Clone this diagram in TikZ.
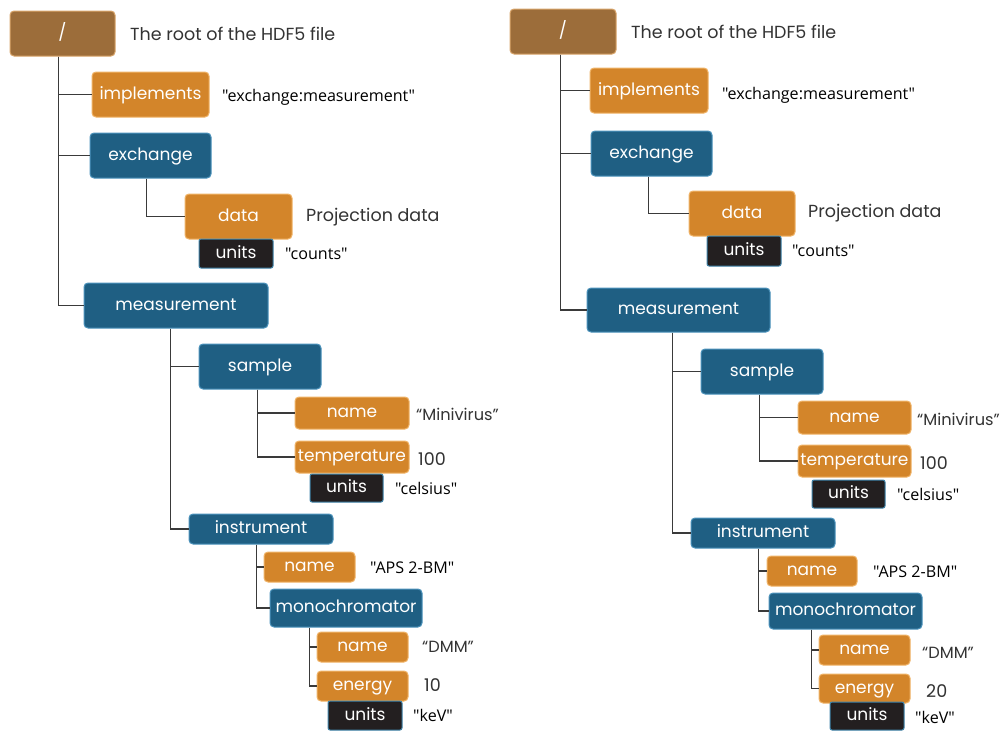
\documentclass[tikz,border=0pt]{standalone}
\usepackage{fontspec}
\setmainfont{Poppins}
\newfontfamily\valfont{Open Sans}
\definecolor{rootfill}{HTML}{9C6D3A}
\definecolor{rootedge}{HTML}{D9A56A}
\definecolor{attrfill}{HTML}{D3852A}
\definecolor{attredge}{HTML}{F0B468}
\definecolor{grpfill}{HTML}{1F5F83}
\definecolor{grpedge}{HTML}{4C93BC}
\definecolor{unitfill}{HTML}{231F20}
\definecolor{unitedge}{HTML}{3F84AA}
\definecolor{linkcol}{HTML}{3A3A3A}
\definecolor{desccol}{HTML}{333333}
\tikzset{
  x=1pt, y=-1pt,
  box/.style={rectangle, rounded corners=4pt, line width=1pt, inner sep=0pt,
    text height=11pt, text depth=1.7pt,
    text=white, font=\fontsize{17}{17}\selectfont},
  rootbox/.style={box, fill=rootfill, draw=rootedge},
  attrbox/.style={box, fill=attrfill, draw=attredge},
  grpbox/.style={box, fill=grpfill, draw=grpedge},
  unitbox/.style={box, rounded corners=2pt, fill=unitfill, draw=unitedge},
  sz/.style 2 args={minimum width=#1pt, minimum height=#2pt},
  link/.style={draw=linkcol, line width=1.5pt},
  desc/.style={anchor=west, inner sep=0pt, text=desccol, font=\fontsize{17.5}{17.5}\selectfont},
  qdesc/.style={desc, font=\fontsize{16.2}{16.2}\selectfont},
  val/.style={anchor=west, inner sep=0pt, text=black, font=\valfont\fontsize{16.1}{16.1}\selectfont},
}
\begin{document}
\begin{tikzpicture}
\useasboundingbox[fill=white] (0,0) rectangle (1002,731);

% ---------------- left tree ----------------
\node[rootbox, sz={105}{45}] (Lroot) at (62.5,33.5) {/};
\node[attrbox, sz={117}{45}] (Limpl) at (150.5,94.5) {implements};
\node[grpbox,  sz={121}{45}] (Lexch) at (150.5,155.5) {exchange};
\node[attrbox, sz={107}{45}] (Ldata) at (238.5,216.5) {data};
\node[unitbox, sz={74}{29}]  (Lu1)   at (236,253.5) {units};
\node[grpbox,  sz={184}{45}] (Lmeas) at (176,305.5) {measurement};
\node[grpbox,  sz={122}{45}] (Lsamp) at (260,366.5) {sample};
\node[attrbox, sz={114}{32}] (Lsname) at (352,413) {name};
\node[attrbox, sz={114}{32}] (Ltemp) at (352,457) {temperature};
\node[unitbox, sz={73}{28}]  (Lu2)   at (346.5,488) {units};
\node[grpbox,  sz={144}{30}] (Linst) at (261,529) {instrument};
\node[attrbox, sz={91}{30}]  (Liname) at (309.5,567) {name};
\node[grpbox,  sz={152}{38}] (Lmono) at (346,608) {monochromator};
\node[attrbox, sz={91}{30}]  (Lmname) at (362.5,647) {name};
\node[attrbox, sz={91}{30}]  (Lener) at (362.5,686) {energy};
\node[unitbox, sz={74}{29}]  (Lu3)   at (365,715.5) {units};

\node[desc]  (Ld1) at (130,34) {The root of the HDF5 file};
\node[val]   (Lv1) at (222,97) {"exchange:measurement"};
\node[desc]  (Ld2) at (306,217) {Projection data};
\node[val]   (Lv2) at (285,254) {"counts"};
\node[qdesc] (Ld3) at (416,414) {“Minivirus”};
\node[desc]  (Ld4) at (418,459) {100};
\node[val]   (Lv3) at (395,488) {"celsius"};
\node[val]   (Lv4) at (370,568) {"APS 2-BM"};
\node[qdesc] (Ld5) at (422,647) {“DMM”};
\node[desc]  (Ld6) at (424,685) {10};
\node[val]   (Lv5) at (413,715) {"keV"};

\draw[link] ([xshift=49pt]Lroot.south west) |- (Lmeas.west);
\draw[link] ([xshift=49pt]Lroot.south west) |- (Limpl.west);
\draw[link] ([xshift=49pt]Lroot.south west) |- (Lexch.west);
\draw[link] ([xshift=57pt]Lexch.south west) |- (Ldata.west);
\draw[link] ([xshift=87pt]Lmeas.south west) |- (Linst.west);
\draw[link] ([xshift=87pt]Lmeas.south west) |- (Lsamp.west);
\draw[link] ([xshift=59pt]Lsamp.south west) |- (Lsname.west);
\draw[link] ([xshift=59pt]Lsamp.south west) |- (Ltemp.west);
\draw[link] ([xshift=68pt]Linst.south west) |- (Liname.west);
\draw[link] ([xshift=68pt]Linst.south west) |- (Lmono.west);
\draw[link] ([xshift=40pt]Lmono.south west) |- (Lmname.west);
\draw[link] ([xshift=40pt]Lmono.south west) |- (Lener.west);

% ---------------- right tree ----------------
\node[rootbox, sz={106}{45}] (Rroot) at (563,31.5) {/};
\node[attrbox, sz={118}{45}] (Rimpl) at (649,90.5) {implements};
\node[grpbox,  sz={121}{45}] (Rexch) at (651.5,153.5) {exchange};
\node[attrbox, sz={106}{45}] (Rdata) at (742,213.5) {data};
\node[unitbox, sz={74}{30}]  (Ru1)   at (744,251) {units};
\node[grpbox,  sz={183}{44}] (Rmeas) at (678.5,310) {measurement};
\node[grpbox,  sz={122}{45}] (Rsamp) at (762,371.5) {sample};
\node[attrbox, sz={113}{33}] (Rsname) at (854.5,417.5) {name};
\node[attrbox, sz={113}{32}] (Rtemp) at (854.5,461) {temperature};
\node[unitbox, sz={73}{28}]  (Ru2)   at (848.5,494) {units};
\node[grpbox,  sz={144}{30}] (Rinst) at (763,533) {instrument};
\node[attrbox, sz={90}{30}]  (Riname) at (812,571) {name};
\node[grpbox,  sz={153}{36}] (Rmono) at (845.5,611) {monochromator};
\node[attrbox, sz={91}{30}]  (Rmname) at (864.5,650) {name};
\node[attrbox, sz={91}{29}]  (Rener) at (864.5,688.5) {energy};
\node[unitbox, sz={74}{28}]  (Ru3)   at (867,716) {units};

\node[desc]  (Rd1) at (631,32) {The root of the HDF5 file};
\node[val]   (Rv1) at (722,95) {"exchange:measurement"};
\node[desc]  (Rd2) at (808,213) {Projection data};
\node[val]   (Rv2) at (792,251) {"counts"};
\node[qdesc] (Rd3) at (917,419) {“Minivirus”};
\node[desc]  (Rd4) at (920,463) {100};
\node[val]   (Rv3) at (897,494) {"celsius"};
\node[val]   (Rv4) at (873,572) {"APS 2-BM"};
\node[qdesc] (Rd5) at (922,653) {“DMM”};
\node[desc]  (Rd6) at (926,691) {20};
\node[val]   (Rv5) at (915,717) {"keV"};

\draw[link] ([xshift=51pt]Rroot.south west) |- (Rmeas.west);
\draw[link] ([xshift=51pt]Rroot.south west) |- (Rimpl.west);
\draw[link] ([xshift=51pt]Rroot.south west) |- (Rexch.west);
\draw[link] ([xshift=58pt]Rexch.south west) |- (Rdata.west);
\draw[link] ([xshift=86pt]Rmeas.south west) |- (Rinst.west);
\draw[link] ([xshift=86pt]Rmeas.south west) |- (Rsamp.west);
\draw[link] ([xshift=59pt]Rsamp.south west) |- (Rsname.west);
\draw[link] ([xshift=59pt]Rsamp.south west) |- (Rtemp.west);
\draw[link] ([xshift=68pt]Rinst.south west) |- (Riname.west);
\draw[link] ([xshift=68pt]Rinst.south west) |- (Rmono.west);
\draw[link] ([xshift=43pt]Rmono.south west) |- (Rmname.west);
\draw[link] ([xshift=43pt]Rmono.south west) |- (Rener.west);
\end{tikzpicture}
\end{document}
